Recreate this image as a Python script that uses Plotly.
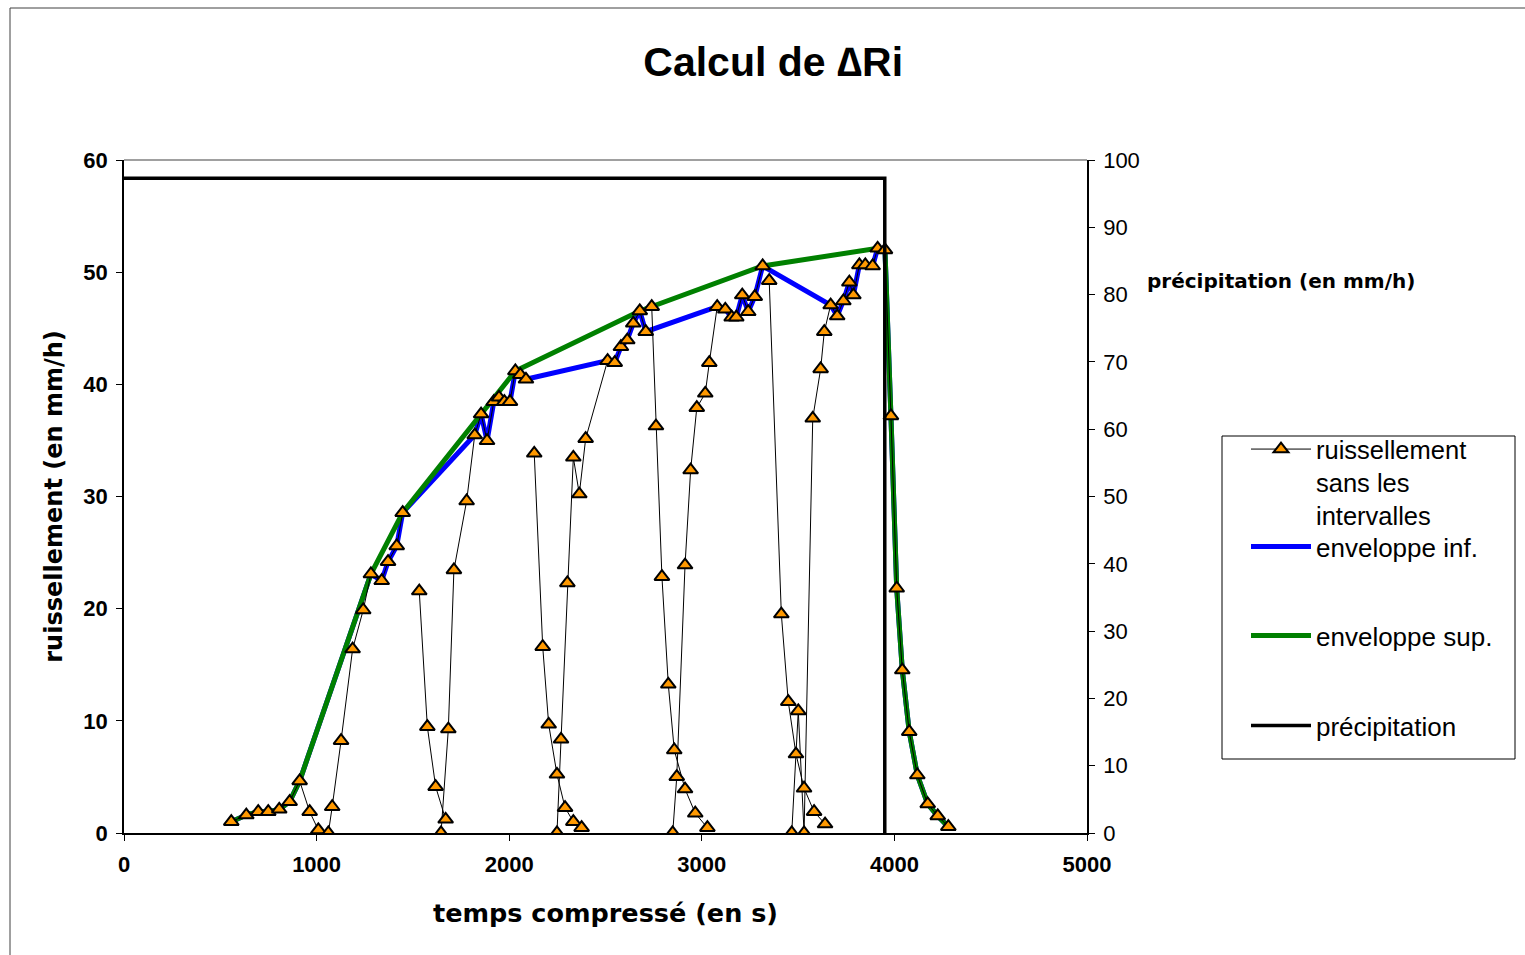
import plotly.graph_objects as go

# ---------------- data ----------------
# runoff "sans les intervalles" (None = break in the line)
temps_ruis = [557, 635, 697, 749, 806, 860, 912, 964, 1009, None,
              1061, 1081, 1127, 1187, 1242, 1282, 1338, 1371, 1416, 1447, None,
              1533, 1575, 1618, 1670, None,
              1646, 1684, 1713, 1779, 1821, 1854, 1885, 1920, 1947, 1975, 2004, 2032, 2058, 2087, None,
              2130, 2174, 2205, 2248, 2290, 2333, 2376, None,
              2248, 2269, 2302, 2333, 2364, 2397, 2511, 2548, 2580, 2613, 2644, 2678, 2709, None,
              2740, 2762, 2793, 2826, 2857, 2913, 2966, 3029, None,
              2849, 2870, 2913, 2942, 2974, 3018, 3039, 3080, 3122, 3155, 3179, 3210, 3241, 3275, 3316, None,
              3350, 3413, 3449, 3489, 3531, 3583, 3640, None,
              3467, 3501, 3531, 3576, 3617, 3636, 3669, 3703, 3735, 3766, 3787, 3818, 3849, 3887, 3913, 3951,
              3982, 4012, 4041, 4077, 4119, 4173, 4225, 4280]
ruissellement = [1.01, 1.60, 1.90, 1.90, 2.11, 2.79, 4.64, 1.90, 0.27, None,
                 0.0, 2.34, 8.23, 16.40, 19.88, 23.09, 22.49, 24.19, 25.59, 28.56, None,
                 21.57, 9.48, 4.13, 1.22, None,
                 0.0, 9.27, 23.45, 29.60, 35.48, 37.35, 34.97, 38.45, 38.84, 38.45, 38.45, 41.19, 40.86, 40.45, None,
                 33.85, 16.61, 9.69, 5.23, 2.26, 1.01, 0.47, None,
                 0.0, 8.35, 22.29, 33.49, 30.22, 35.15, 42.11, 41.93, 43.35, 43.95, 45.44, 46.54, 44.69, None,
                 46.92, 36.28, 22.85, 13.26, 7.40, 3.92, 1.76, 0.47, None,
                 0.0, 5.02, 23.89, 32.36, 37.92, 39.20, 41.93, 46.92, 46.69, 45.98, 45.98, 47.96, 46.47, 47.81, 50.55, None,
                 49.24, 19.52, 11.71, 7.04, 3.99, 1.90, 0.80, None,
                 0.0, 10.88, 0.0, 36.97, 41.37, 44.69, 47.07, 46.09, 47.43, 49.10, 47.96, 50.64, 50.64, 50.55, 52.13, 51.98,
                 37.18, 21.82, 14.53, 9.03, 5.17, 2.59, 1.52, 0.56]

# lower envelope
temps_inf = [557, 635, 697, 749, 806, 860, 912, 1282, 1338, 1371, 1416, 1447,
             1821, 1854, 1885, 1920, 1947, 1975, 2004, 2032, 2058, 2087,
             2511, 2548, 2580, 2613, 2644, 2678, 2709,
             3080, 3122, 3155, 3179, 3210, 3241, 3275, 3316,
             3669, 3703, 3735, 3766, 3787, 3818, 3849, 3887, 3913, 3951,
             3982, 4012, 4041, 4077, 4119, 4173, 4225, 4280]
env_inf = [1.01, 1.60, 1.90, 1.90, 2.11, 2.79, 4.64, 23.09, 22.49, 24.19, 25.59, 28.56,
           35.48, 37.35, 34.97, 38.45, 38.84, 38.45, 38.45, 41.19, 40.86, 40.45,
           42.11, 41.93, 43.35, 43.95, 45.44, 46.54, 44.69,
           46.92, 46.69, 45.98, 45.98, 47.96, 46.47, 47.81, 50.55,
           47.07, 46.09, 47.43, 49.10, 47.96, 50.64, 50.64, 50.55, 52.13, 51.98,
           37.18, 21.82, 14.53, 9.03, 5.17, 2.59, 1.52, 0.56]

# upper envelope
temps_sup = [557, 635, 697, 749, 806, 860, 912, 1282, 1447, 1854, 2032, 2678, 3316, 3913, 3951,
             3982, 4012, 4041, 4077, 4119, 4173, 4225, 4280]
env_sup = [1.01, 1.60, 1.90, 1.90, 2.11, 2.79, 4.64, 23.09, 28.56, 37.35, 41.19, 46.54, 50.55, 52.13, 51.98,
           37.18, 21.82, 14.53, 9.03, 5.17, 2.59, 1.52, 0.56]

# precipitation (right axis)
temps_precip = [0, 3950, 3950]
precip = [97.3, 97.3, 0]

FONT = "Liberation Sans, Arial, sans-serif"
WIDE = "DejaVu Sans, Liberation Sans, sans-serif"

# plot-area geometry in pixels (for placing paper-referenced decorations)
L, R, T, B = 124, 1087, 160, 833
def px(xp):
    return (xp - L) / (R - L)
def py(yp):
    return (B - yp) / (B - T)

fig = go.Figure()

fig.add_trace(go.Scatter(
    x=temps_inf, y=env_inf, mode="lines", name="enveloppe inf.",
    line=dict(color="#0000FF", width=5), legend="legend2"))
fig.add_trace(go.Scatter(
    x=temps_sup, y=env_sup, mode="lines", name="enveloppe sup.",
    line=dict(color="#008000", width=5), legend="legend3"))
fig.add_trace(go.Scatter(
    x=temps_ruis, y=ruissellement, mode="lines+markers",
    name="ruissellement<br>sans les<br>intervalles",
    line=dict(color="black", width=1), connectgaps=False,
    marker=dict(symbol="triangle-up", size=13, color="#FF9900",
                line=dict(color="black", width=2)),
    legend="legend"))
fig.add_trace(go.Scatter(
    x=temps_precip, y=precip, mode="lines", name="précipitation",
    line=dict(color="black", width=3.5), yaxis="y2", legend="legend4"))

axis_common = dict(showgrid=False, zeroline=False, showline=True, linecolor="black",
                   linewidth=1.5, ticks="outside", ticklen=6, tickcolor="black",
                   tickwidth=1)

def leg(text_center_y, size=26):
    return dict(x=px(1246), y=py(text_center_y - 25), xanchor="left", yanchor="top",
                borderwidth=0, bgcolor="rgba(0,0,0,0)",
                font=dict(size=size, family=FONT, color="black"),
                itemwidth=60, valign="top")

fig.update_layout(
    width=1525, height=955,
    margin=dict(l=L, r=1525 - R, t=T, b=955 - B),
    paper_bgcolor="white", plot_bgcolor="white",
    font=dict(family=FONT, color="black"),
    title=dict(text="<b>Calcul de ∆Ri</b>", x=0.507, xref="container", xanchor="center",
               y=1 - 62 / 955, yref="container", yanchor="middle",
               font=dict(size=41, family=FONT, color="black")),
    xaxis=dict(range=[0, 5000], dtick=1000, tickformat="d",
               tickfont=dict(size=22, family=FONT), ticklabelstandoff=5,
               tickprefix="<b>", ticksuffix="</b>",
               title=dict(text="<b>temps compressé (en s)</b>",
                          font=dict(size=25.5, family=WIDE), standoff=28),
               **axis_common),
    yaxis=dict(range=[0, 60], dtick=10,
               tickfont=dict(size=22, family=FONT), ticklabelstandoff=4,
               tickprefix="<b>", ticksuffix="</b>",
               title=dict(text="<b>ruissellement (en mm/h)</b>",
                          font=dict(size=24, family=WIDE), standoff=14),
               **axis_common),
    yaxis2=dict(range=[0, 100], dtick=10, overlaying="y", side="right",
                tickfont=dict(size=22, family=FONT), ticklabelstandoff=4,
                **axis_common),
    legend=leg(451, 25.5),
    legend2=leg(548),
    legend3=leg(637),
    legend4=leg(727),
    showlegend=True,
)

# right-axis title (horizontal)
fig.add_annotation(text="<b>précipitation (en mm/h)</b>", xref="paper", yref="paper",
                   x=px(1145), y=py(281), xanchor="left", yanchor="middle",
                   showarrow=False, font=dict(size=20, family=WIDE, color="black"))

# legend frame
fig.add_shape(type="rect", xref="paper", yref="paper",
              x0=px(1222), x1=px(1515), y0=py(759), y1=py(436),
              line=dict(color="black", width=1), fillcolor="rgba(0,0,0,0)")
# grey top border of the plot area
fig.add_shape(type="line", xref="paper", yref="paper", x0=0, x1=1, y0=1, y1=1,
              line=dict(color="#808080", width=1.5))
# chart-area frame (top and left edges visible)
fig.add_shape(type="line", xref="paper", yref="paper",
              x0=px(10), x1=px(1530), y0=py(8), y1=py(8),
              line=dict(color="#404040", width=1))
fig.add_shape(type="line", xref="paper", yref="paper",
              x0=px(10), x1=px(10), y0=py(8), y1=py(960),
              line=dict(color="#404040", width=1))

fig.write_html("out.html")
